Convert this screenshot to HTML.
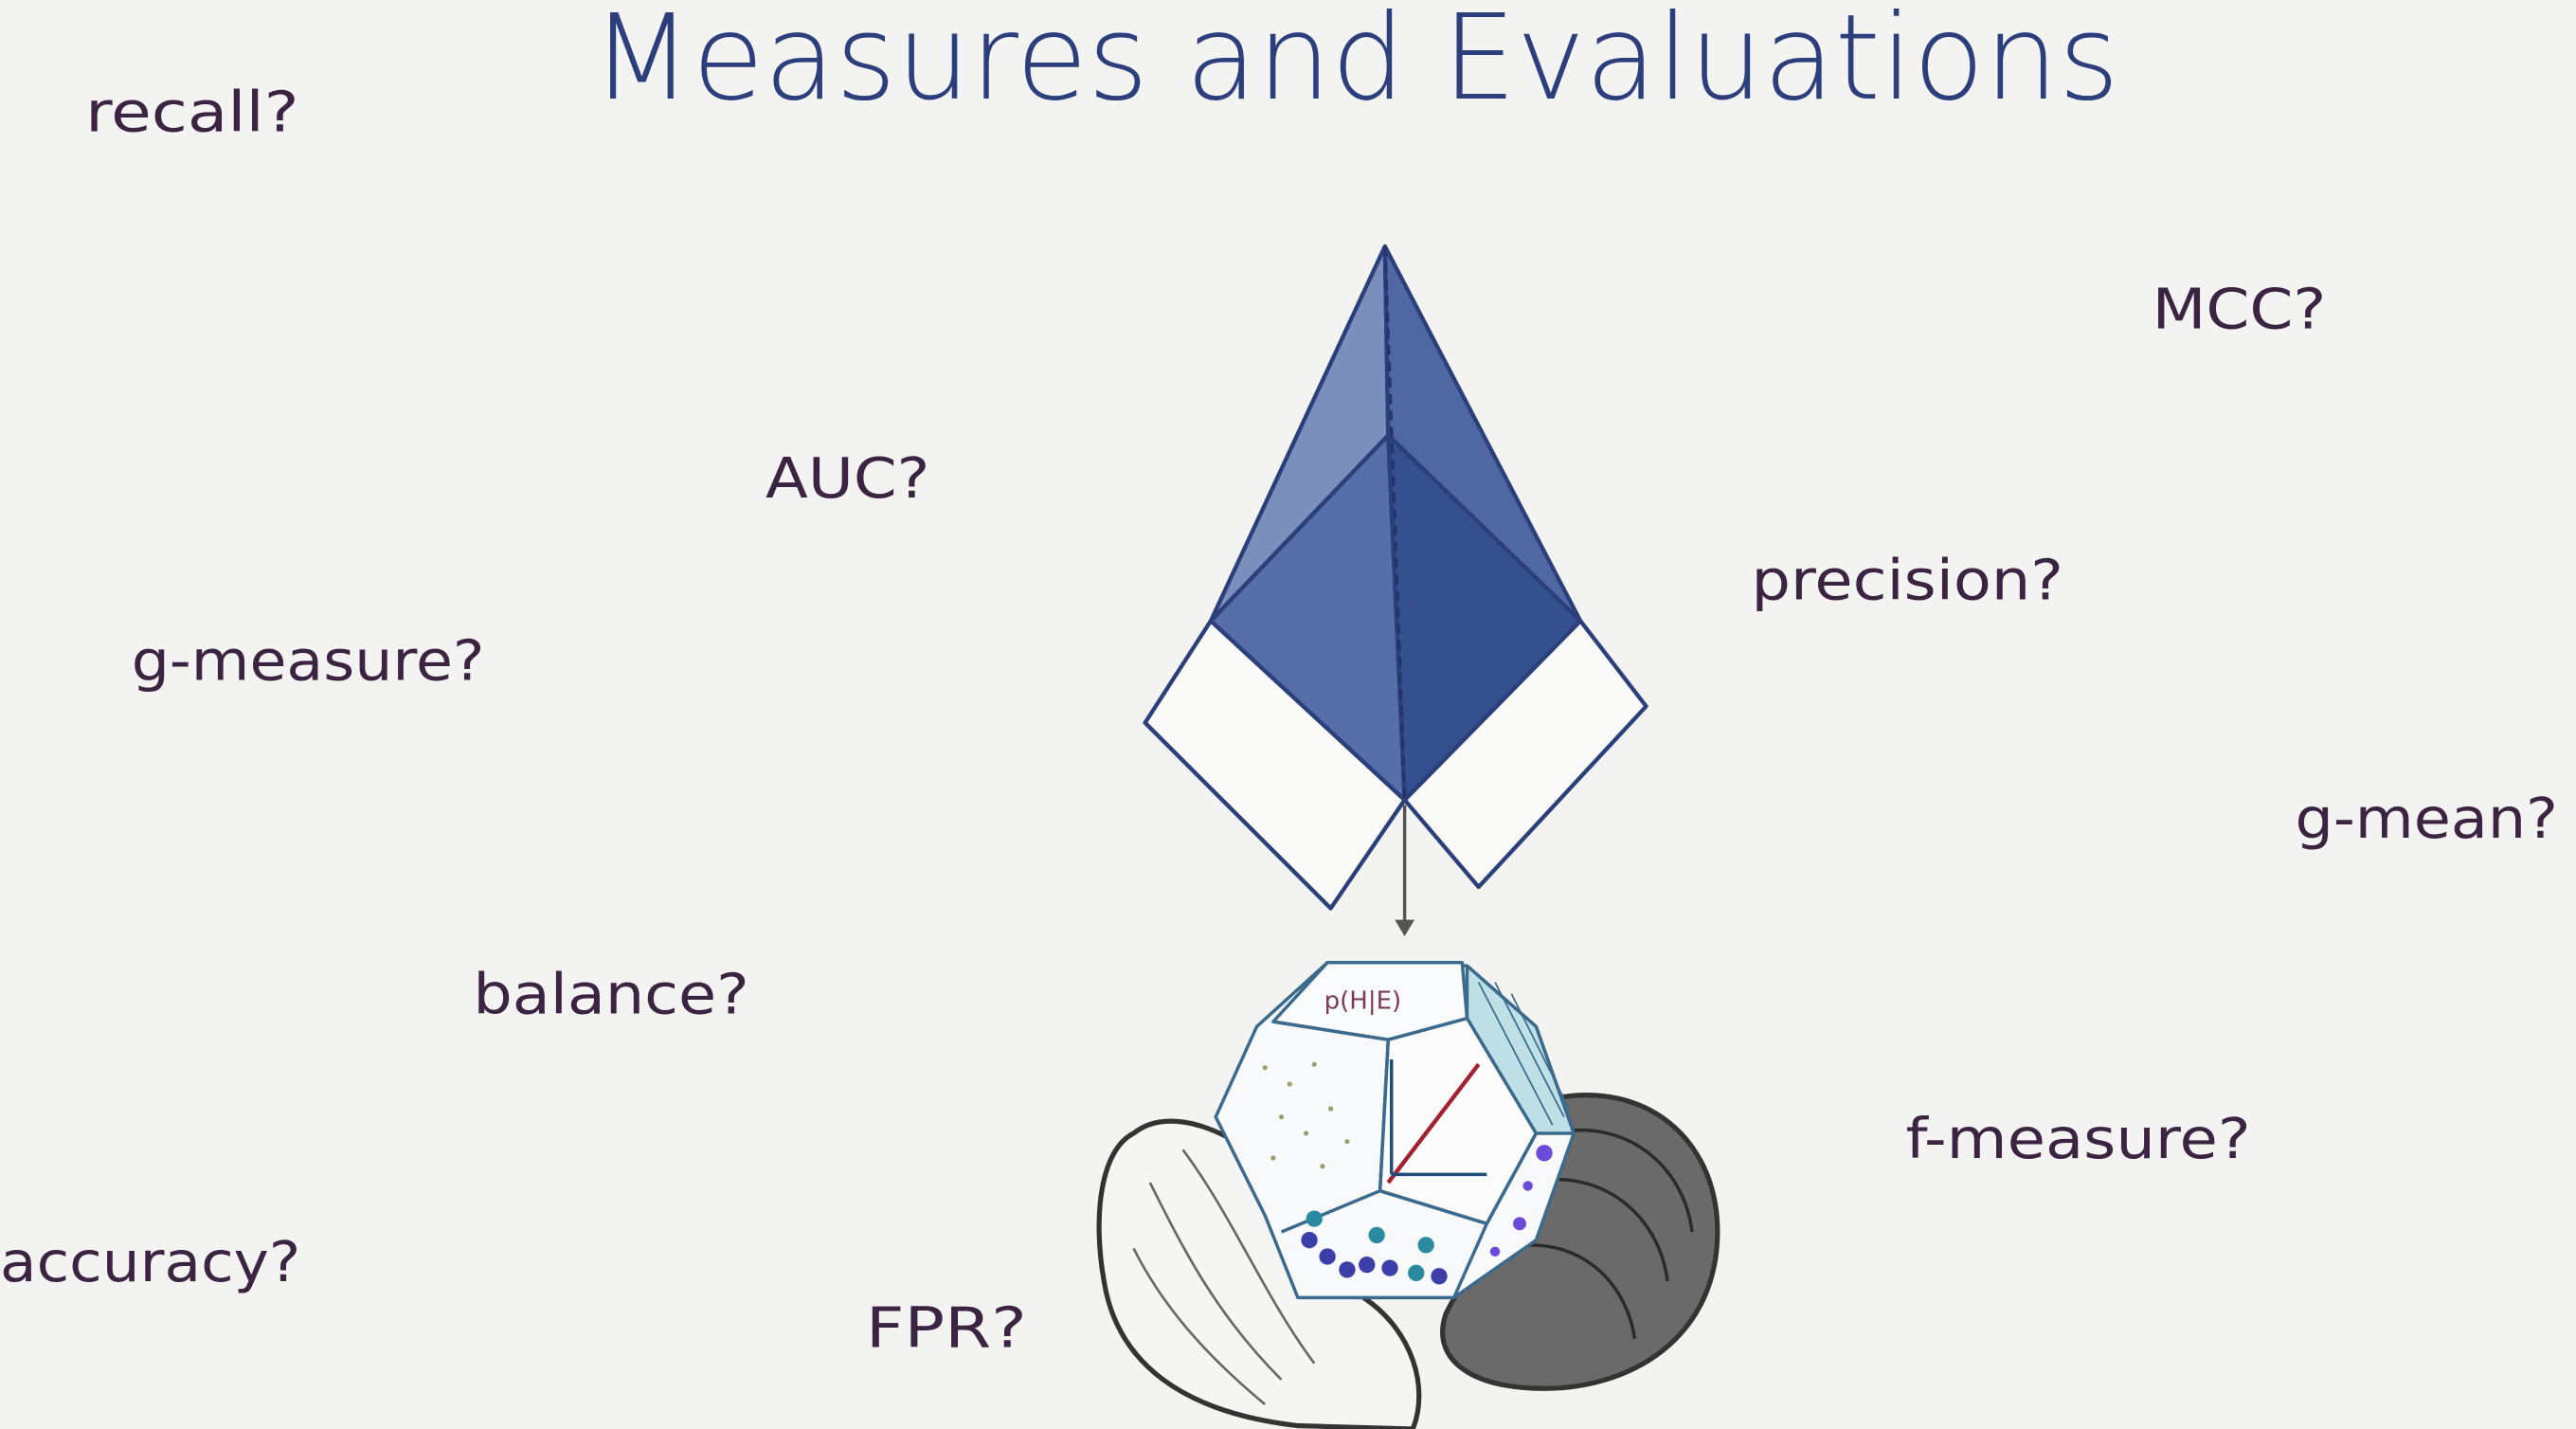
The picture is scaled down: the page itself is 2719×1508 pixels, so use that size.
<!DOCTYPE html>
<html><head><meta charset="utf-8"><style>
html,body{margin:0;padding:0;background:#f3f3f1;}
svg{display:block;}
.t{font-family:"DejaVu Sans","Liberation Sans",sans-serif;fill:#3b2342;font-size:34px;}
</style></head><body>
<svg width="2719" height="1508" viewBox="0 0 1568 870" preserveAspectRatio="none" xmlns="http://www.w3.org/2000/svg">
<rect width="1568" height="870" fill="#f3f3f1"/>
<text x="825" y="60" text-anchor="middle" font-family="DejaVu Sans,Liberation Sans,sans-serif" font-size="72" font-weight="300" fill="#2c3f7c" textLength="930" lengthAdjust="spacingAndGlyphs">Measures and Evaluations</text>
<text class="t" x="52" y="80" textLength="130" lengthAdjust="spacingAndGlyphs">recall?</text>
<text class="t" x="1310" y="200" textLength="106" lengthAdjust="spacingAndGlyphs">MCC?</text>
<text class="t" x="466" y="303" textLength="100" lengthAdjust="spacingAndGlyphs">AUC?</text>
<text class="t" x="1066" y="365" textLength="190" lengthAdjust="spacingAndGlyphs">precision?</text>
<text class="t" x="80" y="414" textLength="215" lengthAdjust="spacingAndGlyphs">g-measure?</text>
<text class="t" x="1397" y="510" textLength="160" lengthAdjust="spacingAndGlyphs">g-mean?</text>
<text class="t" x="288" y="617" textLength="168" lengthAdjust="spacingAndGlyphs">balance?</text>
<text class="t" x="1160" y="705" textLength="210" lengthAdjust="spacingAndGlyphs">f-measure?</text>
<text class="t" x="0" y="780" textLength="183" lengthAdjust="spacingAndGlyphs">accuracy?</text>
<text class="t" x="527" y="820" textLength="98" lengthAdjust="spacingAndGlyphs">FPR?</text>

<g stroke="#2b3f7a" stroke-width="2.5" stroke-linejoin="round">
<polygon points="737,378 697,440 810,553 855,487" fill="#fafaf8"/>
<polygon points="962,378 1002,430 900,540 855,487" fill="#fafaf8"/>
<polygon points="843,150 737,378 845,265" fill="#7b8fbd"/>
<polygon points="843,150 845,265 962,378" fill="#4f67a3"/>
<polygon points="737,378 845,265 855,487" fill="#566ea9"/>
<polygon points="845,265 962,378 855,487" fill="#34508f"/>
</g>
<line x1="843" y1="150" x2="855" y2="487" stroke="#23346a" stroke-width="2" stroke-dasharray="6,4"/>
<line x1="855" y1="490" x2="855" y2="562" stroke="#555" stroke-width="2"/>
<polygon points="849,560 861,560 855,570" fill="#555"/>

<path d="M690,690 C670,700 665,740 672,780 C680,830 720,860 790,868 L860,870 C870,845 860,810 830,790 C800,760 790,720 760,700 C730,680 705,678 690,690 Z" fill="#f5f5f3" stroke="#333" stroke-width="3"/>
<path d="M700,720 C720,760 740,800 780,840 M720,700 C750,740 770,790 800,830 M690,760 C710,800 740,830 770,855" stroke="#666" stroke-width="1.5" fill="none"/>
<path d="M950,668 C1000,660 1040,690 1045,740 C1050,800 1010,840 950,845 C900,848 870,830 880,800 C895,770 920,740 935,710 Z" fill="#6a6a6a" stroke="#333" stroke-width="3"/>
<path d="M945,690 C990,680 1025,710 1030,750 M930,720 C975,710 1010,740 1015,780 M915,760 C960,750 990,780 995,815" stroke="#2a2a2a" stroke-width="2" fill="none"/>

<g stroke="#3b6a8c" stroke-width="2" stroke-linejoin="round">
<polygon points="808,586 893,588 935,625 958,690 935,755 885,790 790,790 770,740 740,680 765,625" fill="#f7f9fb"/>
<polygon points="893,588 935,625 958,690 935,690 893,620" fill="#bfe0e6"/>
<polygon points="808,586 890,586 893,620 845,633 775,622" fill="#fafbfc"/>
<polygon points="845,633 893,620 935,690 905,745 840,725" fill="#fcfcfd"/>
<polyline points="775,622 845,633 840,725 780,750" fill="none"/>
<polyline points="840,725 905,745 885,790" fill="none"/>
<polyline points="935,690 905,745" fill="none"/>
</g>
<g stroke="#3b6a8c" stroke-width="1">
<line x1="900" y1="598" x2="945" y2="685"/><line x1="910" y1="598" x2="952" y2="680"/><line x1="920" y1="605" x2="955" y2="675"/>
</g>
<text x="806" y="614" font-family="DejaVu Sans,sans-serif" font-size="15" fill="#7a3a55">p(H|E)</text>
<line x1="845" y1="720" x2="900" y2="648" stroke="#a32030" stroke-width="2.5"/>
<path d="M847,715 V645 M847,715 H905" stroke="#1f4d7a" stroke-width="2" fill="none"/>
<g fill="#3d3fa8">
<circle cx="800" cy="742" r="5" fill="#2a8aa0"/><circle cx="797" cy="755" r="5"/><circle cx="808" cy="765" r="5"/><circle cx="820" cy="773" r="5"/>
<circle cx="838" cy="752" r="5" fill="#2a8aa0"/><circle cx="832" cy="770" r="5"/><circle cx="846" cy="772" r="5"/>
<circle cx="868" cy="758" r="5" fill="#2a8aa0"/><circle cx="862" cy="775" r="5" fill="#2a8aa0"/><circle cx="876" cy="777" r="5"/>
<circle cx="940" cy="702" r="5" fill="#6a4ad8"/><circle cx="930" cy="722" r="3" fill="#6a4ad8"/><circle cx="925" cy="745" r="4" fill="#6a4ad8"/><circle cx="910" cy="762" r="3" fill="#6a4ad8"/>
</g>
<g fill="#9aa070">
<circle cx="770" cy="650" r="1.5"/><circle cx="785" cy="660" r="1.5"/><circle cx="800" cy="648" r="1.5"/><circle cx="780" cy="680" r="1.5"/><circle cx="795" cy="690" r="1.5"/><circle cx="810" cy="675" r="1.5"/><circle cx="775" cy="705" r="1.5"/><circle cx="805" cy="710" r="1.5"/><circle cx="820" cy="695" r="1.5"/>
</g>
</svg>
</body></html>
